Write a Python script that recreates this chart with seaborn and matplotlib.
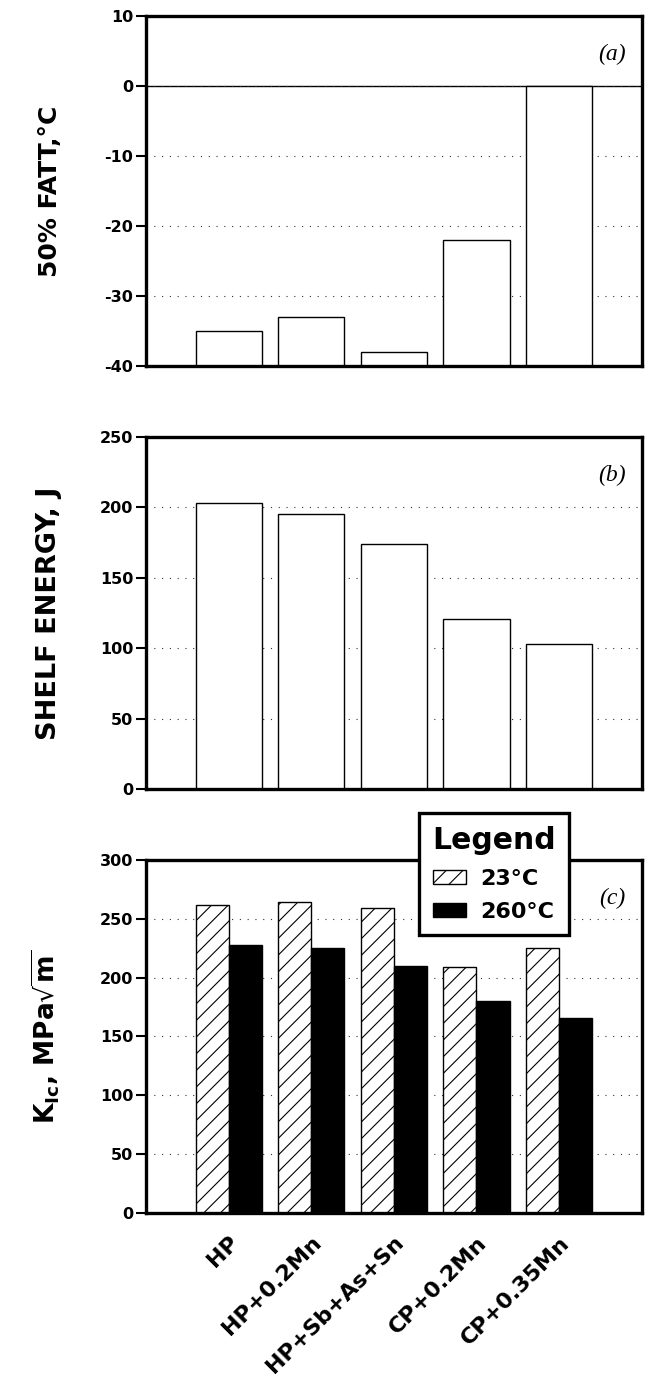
import matplotlib
matplotlib.use("Agg")
import matplotlib.pyplot as plt
import matplotlib.patches as mpatches
import seaborn as sns
import pandas as pd

# Alloy variants and measured properties
alloys = ["HP", "HP+0.2Mn", "HP+Sb+As+Sn", "CP+0.2Mn", "CP+0.35Mn"]
fatt = [-35, -33, -38, -22, 0]            # 50% FATT, degC
shelf_energy = [203, 195, 174, 121, 103]  # upper shelf energy, J
kic_23 = [262, 264, 259, 209, 225]        # K_Ic at 23 degC, MPa sqrt(m)
kic_260 = [228, 225, 210, 180, 166]       # K_Ic at 260 degC, MPa sqrt(m)
temperatures = ["23°C", "260°C"]

fatt_ticks = [10, 0, -10, -20, -30, -40]
shelf_ticks = [0, 50, 100, 150, 200, 250]
kic_ticks = [0, 50, 100, 150, 200, 250, 300]

sns.set_style("white")
plt.rcParams["font.family"] = ["DejaVu Sans"]
plt.rcParams["axes.unicode_minus"] = False
plt.rcParams["hatch.linewidth"] = 0.8
plt.rcParams["mathtext.fontset"] = "dejavusans"
for key in ("text.color", "axes.labelcolor", "xtick.color", "ytick.color"):
    plt.rcParams[key] = "black"

fig = plt.figure(figsize=(6.48, 13.85), dpi=100)
left, width = 0.2253, 0.765
ax_a = fig.add_axes([left, 0.7357, width, 0.2527])
ax_b = fig.add_axes([left, 0.4303, width, 0.2542])
ax_c = fig.add_axes([left, 0.1242, width, 0.2549])

GRID_KW = dict(color="#333333", linestyle=(0, (1, 6)), linewidth=0.8)


def style_axes(ax, ticks, ylabel, tag, label_size):
    ax.set_xlim(-1, 5)
    ax.set_ylim(min(ticks), max(ticks))
    ax.set_yticks(ticks)
    ax.set_yticklabels([str(t) for t in ticks], fontweight="bold")
    ax.tick_params(axis="y", direction="out", length=7, width=1.5,
                   labelsize=11.5, pad=2, left=True)
    ax.tick_params(axis="x", length=0)
    ax.set_axisbelow(True)
    ax.yaxis.grid(True, **GRID_KW)
    ax.xaxis.grid(False)
    for s in ax.spines.values():
        s.set_visible(True)
        s.set_color("black")
        s.set_linewidth(2.4)
    ax.set_ylabel(ylabel, fontsize=label_size, fontweight="bold")
    ax.yaxis.set_label_coords(-0.17, 0.5)
    ax.set_xlabel("")
    ax.text(0.94, 0.89, "(" + tag + ")", transform=ax.transAxes,
            fontsize=17, ha="center", va="center",
            family="Liberation Serif", style="italic")


# (a) 50% FATT: bars rise from the bottom of the scale
sns.barplot(x=alloys, y=fatt, color="white", saturation=1,
            edgecolor="black", linewidth=1.0, ax=ax_a)
base = min(fatt_ticks)
for p in ax_a.patches:
    top = p.get_y() + p.get_height()
    p.set_y(base)
    p.set_height(top - base)
style_axes(ax_a, fatt_ticks, "50% FATT,°C", "a", 18)
ax_a.axhline(0, color="black", linewidth=1.0, zorder=0.5)
ax_a.set_xticklabels([])

# (b) shelf energy
sns.barplot(x=alloys, y=shelf_energy, color="white", saturation=1,
            edgecolor="black", linewidth=1.0, ax=ax_b)
style_axes(ax_b, shelf_ticks, "SHELF ENERGY, J", "b", 19.5)
ax_b.set_xticklabels([])

# (c) fracture toughness at two test temperatures
kic = pd.DataFrame({
    "alloy": alloys * 2,
    "temperature": [temperatures[0]] * len(alloys) + [temperatures[1]] * len(alloys),
    "kic": kic_23 + kic_260,
})
sns.barplot(data=kic, x="alloy", y="kic", hue="temperature",
            hue_order=temperatures, palette=["white", "black"], saturation=1,
            edgecolor="black", linewidth=1.0, legend=False, ax=ax_c)
for p in ax_c.patches:
    if tuple(p.get_facecolor()[:3]) == (1.0, 1.0, 1.0):
        p.set_hatch("//")
style_axes(ax_c, kic_ticks,
           r"$\mathbf{K}_{\mathbf{Ic}}$, MPa$\sqrt{\mathbf{m}}$", "c", 19)
ax_c.set_xticks(range(len(alloys)))
ax_c.set_xticklabels(alloys, rotation=45, ha="right", rotation_mode="anchor",
                     fontsize=16, fontweight="bold")
ax_c.tick_params(axis="x", pad=14)

handles = [
    mpatches.Patch(facecolor="white", edgecolor="black", hatch="//",
                   linewidth=1.0, label=temperatures[0]),
    mpatches.Patch(facecolor="black", edgecolor="black",
                   linewidth=1.0, label=temperatures[1]),
]
leg = ax_c.legend(handles=handles, title="Legend", loc="upper left",
                  bbox_to_anchor=(0.55, 1.133), frameon=True, fancybox=False,
                  prop=dict(weight="bold", size=16),
                  title_fontproperties=dict(weight="bold", size=21.5),
                  handlelength=1.5, handleheight=0.6, handletextpad=0.63,
                  labelspacing=0.6, borderpad=0.6, borderaxespad=0)
leg.get_frame().set_edgecolor("black")
leg.get_frame().set_linewidth(2.4)
leg.get_frame().set_facecolor("white")
leg.get_frame().set_alpha(1)
leg.set_zorder(10)

fig.savefig("out.png", dpi=100)
